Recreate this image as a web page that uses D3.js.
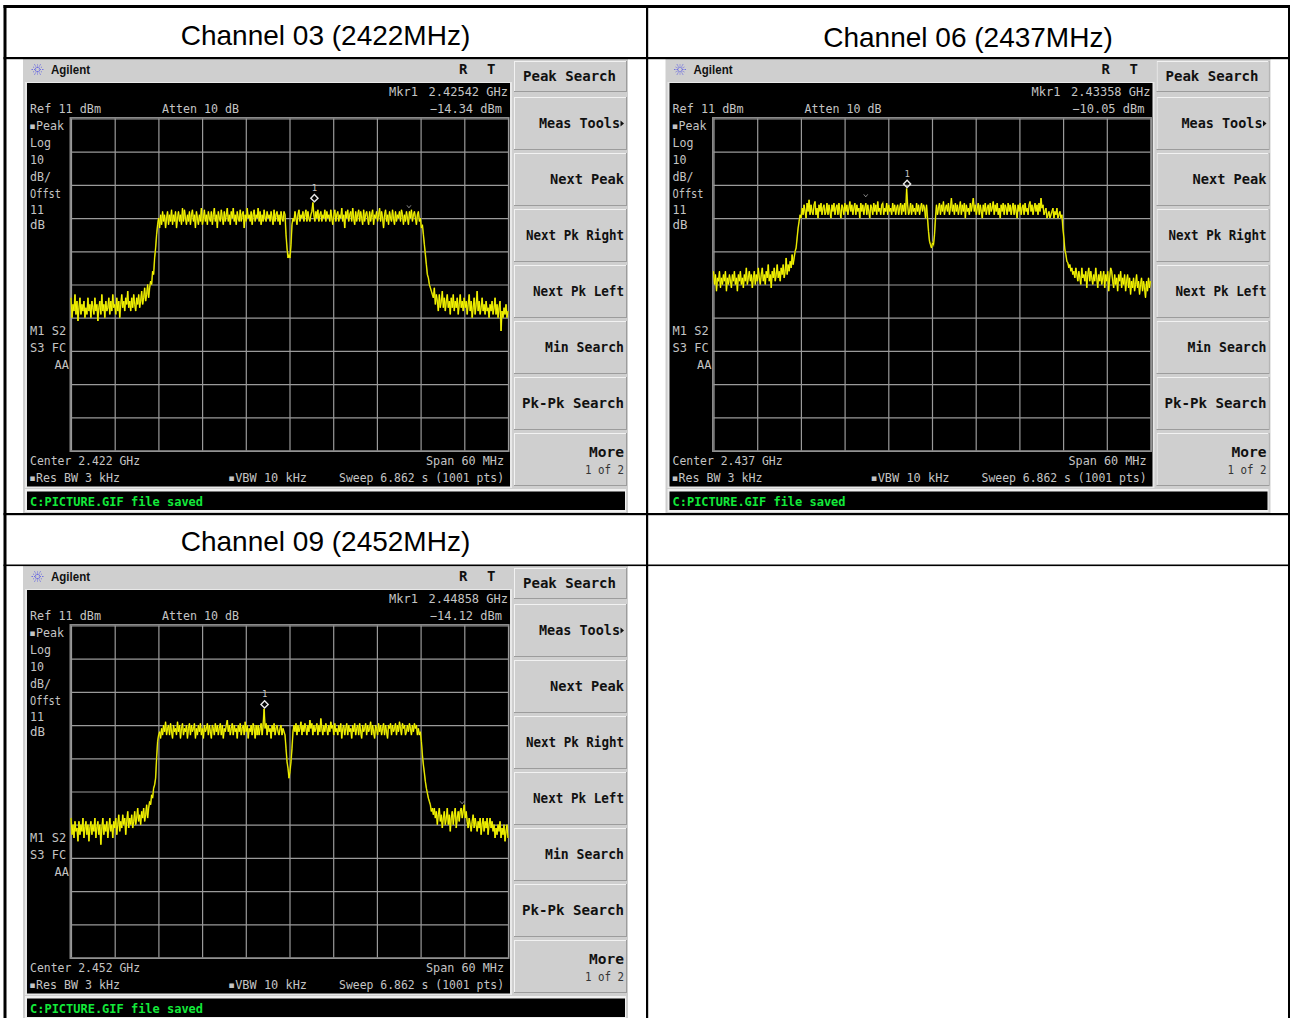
<!DOCTYPE html>
<html><head><meta charset="utf-8">
<script src="https://cdn.jsdelivr.net/npm/d3@7/dist/d3.min.js"></script>
<style>
html,body{margin:0;padding:0;background:#fff;overflow:hidden}
svg{display:block}
.mono{font-family:"DejaVu Sans Mono","Liberation Mono",monospace}
</style></head><body>
<script>
const channelTitles = ["Channel 03 (2422MHz)","Channel 06 (2437MHz)","Channel 09 (2452MHz)"];
const centerLabels = ["Center 2.422 GHz","Center 2.437 GHz","Center 2.452 GHz"];
const markerFreqLabels = ["2.42542 GHz","2.43358 GHz","2.44858 GHz"];
const markerLevelLabels = ["\u221214.34 dBm","\u221210.05 dBm","\u221214.12 dBm"];
const markerOffsetsMHz = [3.42,-3.42,-3.42];
const markerLevelsDbm = [-14.34,-10.05,-14.12];
const sideMarksMHz = [16.4,-9.1,23.7];
const sideMarkLevels = [-16.5,-13.2,-43.3];
const softKeys = ["Peak Search","Meas Tools","Next Peak","Next Pk Right","Next Pk Left","Min Search","Pk-Pk Search","More"];
const statusLabels = ["Log","10","dB/","Offst","11","dB"];
const flagLabels = ["M1 S2","S3 FC","AA"];
const levelTicks = [11,1,-9,-19,-29,-39,-49,-59,-69,-79,-89];
const freqTicks = [-30,-24,-18,-12,-6,0,6,12,18,24,30];

const traceCh03 = [
-43,-49,-45,-47,-42,-48,-44,-50,-46,-43,-48,-45,-47,-44,-49,-46,-48,-43,-47,-45,
-49,-44,-46,-48,-43,-47,-45,-50,-46,-44,-48,-42,-47,-45,-49,-44,-47,-46,-43,-48,
-44,-47,-42,-46,-45,-48,-43,-47,-44,-49,-45,-42,-46,-44,-47,-43,-45,-41,-46,-44,
-47,-43,-46,-42,-45,-47,-43,-45,-42,-46,-44,-41,-45,-43,-40,-44,-42,-39,-43,-40,
-38,-39,-35,-36,-31,-28,-24,-21,-19,-22,-18,-21,-17,-20,-18,-22,-19,-17,-21,-18,
-20,-16.5,-21,-18,-20,-17,-22,-19,-17,-20,-18,-21,-16,-20,-16.5,-19,-21,-18,-20,-17,
-21,-18,-16.5,-20,-18,-22,-17,-19,-21,-18,-20,-16,-21,-19,-16.5,-20,-18,-21,-17,-19,
-20,-17,-21,-18,-16,-20,-18,-22,-17,-19,-20,-16.5,-19,-21,-17,-20,-18,-16,-20,-18,
-21,-17,-19,-16,-20,-18,-21,-17,-19,-20,-16.5,-20,-18,-17,-22,-18,-20,-16,-19,-18,
-20,-17,-21,-18,-16.5,-20,-18,-19,-16,-20,-17,-21,-18,-20,-16.5,-19,-20,-17,-19,-18,
-20,-17,-19,-21,-16.5,-20,-18,-17,-20,-18,-21,-17,-19,-20,-17,-18,-24,-28,-31,-30,
-31,-27,-21,-19,-20,-17,-19,-21,-18,-16.5,-20,-18,-19,-17,-20,-18,-16.5,-20,-17,-19,
-20,-18,-17,-14.3,-18,-20,-17,-19,-16.5,-20,-18,-17,-20,-18,-19,-16.5,-20,-17,-19,-18,
-20,-16.5,-19,-21,-18,-16.5,-20,-18,-17,-20,-18,-19,-16,-20,-18,-22,-17,-19,-16.5,-20,
-18,-17,-20,-16,-19,-21,-17,-20,-18,-16.5,-20,-17,-19,-21,-16.5,-20,-18,-17,-19,-21,
-17,-20,-18,-16.5,-21,-18,-19,-17,-20,-18,-16,-20,-17,-19,-22,-18,-16.5,-20,-18,-21,
-17,-19,-20,-16.5,-19,-21,-17,-20,-18,-19,-17,-20,-16.5,-18,-21,-18,-20,-17,-19,-21,
-17,-19,-16.5,-20,-18,-17,-19,-21,-18,-17,-20,-19,-22,-21,-24,-27,-30,-33,-36,-37,
-39,-40,-41,-42,-43,-40,-45,-42,-44,-47,-42,-46,-44,-41,-46,-43,-47,-44,-42,-46,
-44,-48,-43,-46,-42,-47,-44,-46,-43,-48,-45,-42,-46,-44,-47,-43,-46,-44,-48,-45,
-42,-47,-44,-49,-46,-43,-48,-45,-41,-47,-44,-48,-46,-43,-47,-45,-48,-44,-47,-46,
-49,-45,-47,-44,-48,-46,-43,-48,-45,-49,-46,-44,-53,-47,-49,-46,-48,-45,-49,-47
];
const traceCh06 = [
-35,-39,-36,-41,-37,-38,-35,-40,-37,-39,-36,-38,-35,-41,-37,-39,-36,-38,-40,-36,
-38,-35,-39,-37,-41,-36,-38,-35,-39,-37,-40,-36,-38,-34,-39,-37,-35,-38,-36,-40,
-37,-35,-39,-36,-38,-34,-37,-39,-36,-34,-38,-36,-39,-35,-37,-33,-38,-36,-40,-35,
-37,-34,-38,-36,-33,-37,-35,-38,-34,-36,-33,-37,-35,-31,-36,-33,-35,-32,-34,-30,
-33,-31,-29,-28,-25,-22,-20,-18,-19,-16,-18,-15,-17,-19,-14.5,-17,-13.5,-18,-15,-17,
-18,-15,-14,-18,-16,-19,-15,-17,-14.5,-18,-16,-15,-18,-17,-14.5,-18,-15,-17,-19,-15,
-17,-14.5,-18,-16,-15,-18,-14.5,-17,-19,-15,-16,-18,-14.5,-17,-15,-18,-16,-14,-17,-15,
-18,-16,-14.5,-18,-15,-17,-16,-19,-14.5,-17,-15,-18,-16,-14.5,-18,-15,-17,-19,-15,-16,
-18,-14.5,-17,-15,-18,-14,-17,-16,-18,-15,-14.5,-18,-16,-17,-14.5,-18,-15,-17,-16,-18,
-14.5,-17,-15,-18,-16,-15,-18,-16,-14.5,-18,-15,-17,-14.5,-18,-10.1,-15,-18,-17,-14.5,-18,
-15,-17,-16,-18,-14.5,-17,-15,-18,-16,-14.5,-17,-15,-16,-19,-15,-19,-23,-26,-27,-28,
-26.5,-27,-24,-19,-15,-18,-16,-14.5,-18,-15,-17,-14,-18,-16,-15,-17,-14.5,-18,-16,-13,
-17,-15,-18,-14.5,-17,-15,-18,-16,-14,-18,-15,-17,-14.5,-19,-15,-17,-16,-18,-14.5,-17,
-15,-13,-17,-15,-18,-16,-14.5,-18,-15,-17,-19,-15,-17,-14.5,-18,-16,-15,-18,-14.5,-17,
-16,-14,-18,-15,-17,-14.5,-18,-16,-19,-15,-17,-14.5,-18,-15,-16,-18,-14.5,-17,-15,-18,
-16,-14.5,-18,-15,-17,-19,-15,-17,-14.5,-18,-16,-15,-18,-14.5,-17,-16,-18,-15,-14,-17,
-15,-18,-16,-14.5,-17,-15,-18,-14.5,-17,-13,-16,-15,-18,-17,-16,-19,-18,-17,-19,-18,
-17,-16,-19,-17,-18,-16,-19,-18,-17,-19,-18,-22,-25,-28.6,-30,-32,-32.5,-34,-33,-35,
-34,-36,-35,-37,-34,-36,-38,-35,-37,-39,-34,-37,-36,-38,-35,-40,-36,-34,-38,-35,
-37,-39,-36,-38,-34,-37,-40,-36,-38,-35,-39,-37,-35,-40,-36,-38,-35,-41,-37,-34,
-35,-38,-40,-36,-39,-37,-41,-36,-38,-35,-40,-37,-39,-36,-41,-38,-36,-40,-37,-42,
-38,-40,-37,-41,-39,-36,-40,-38,-42,-39,-37,-41,-38,-40,-43,-38,-41,-37,-40,-38
];
const traceCh09 = [
-47,-52,-49,-53,-48,-51,-50,-54,-48,-52,-49,-51,-47,-53,-50,-48,-52,-49,-54,-50,
-48,-52,-49,-51,-47,-53,-50,-48,-52,-49,-55,-50,-47,-52,-49,-51,-48,-53,-50,-47,
-51,-49,-53,-48,-50,-47,-52,-49,-46,-51,-48,-50,-46,-49,-47,-52,-48,-45,-50,-47,
-49,-46,-50,-48,-45,-49,-47,-44,-48,-46,-49,-45,-47,-44,-48,-46,-43,-47,-44,-42,
-43,-40,-41,-38,-37,-35,-29,-24,-22,-21,-23,-20,-22,-19,-21,-18,-22,-20,-19,-22,
-18.5,-21,-23,-19,-21,-20,-22,-18,-21,-19,-23,-20,-18.5,-22,-20,-21,-19,-23,-20,-18.5,
-22,-19,-21,-20,-18.5,-23,-20,-22,-19,-21,-18.5,-22,-20,-23,-19,-21,-20,-18.5,-22,-19,
-21,-23,-19,-20,-22,-18.5,-21,-19,-22,-20,-18.5,-22,-19,-23,-20,-21,-19,-17.5,-21,-19,
-22,-20,-18.5,-22,-19,-21,-20,-23,-19,-21,-18.5,-22,-20,-19,-22,-18,-21,-19,-23,-20,
-21,-19,-22,-18.5,-20,-23,-19,-22,-19,-22,-20,-18.5,-22,-19,-14.1,-20,-18.5,-22,-19,-21,
-20,-23,-19,-21,-18.5,-22,-20,-19,-21,-22,-20,-19,-22,-20,-21,-22,-26,-30,-32,-35,
-33,-30,-26,-21,-19,-21,-18.5,-22,-19,-21,-20,-18,-22,-19,-21,-18.5,-20,-22,-19,-21,
-17.5,-20,-18.5,-22,-19,-21,-20,-18.5,-22,-19,-21,-17,-20,-22,-19,-21,-18.5,-20,-22,-19,
-21,-18,-20,-19,-22,-18.5,-21,-20,-22,-19,-21,-18.5,-23,-20,-19,-22,-20,-18.5,-22,-19,
-21,-20,-23,-19,-21,-18.5,-22,-20,-19,-22,-18.5,-21,-23,-19,-21,-20,-18.5,-22,-19,-21,
-20,-18,-22,-19,-21,-23,-19,-20,-22,-18.5,-21,-19,-22,-20,-18.5,-22,-19,-21,-23,-19,
-20,-18.5,-22,-19,-21,-20,-18.5,-22,-19,-21,-18,-20,-22,-18.5,-20,-19,-22,-21,-19,-21,
-18.5,-20,-22,-19,-21,-18.5,-20,-19,-22,-20,-22,-21,-24,-28,-31,-33.4,-36,-38,-39.5,-41,
-42,-43,-45,-44,-46,-44,-47,-45,-49,-46,-44,-48,-46,-50,-47,-45,-49,-47,-44,-49,
-46,-51,-47,-45,-49,-46,-44,-50,-47,-45,-48,-45,-44,-47,-45,-43,-47,-45,-48,-50,
-47,-49,-51,-48,-46,-50,-47,-49,-51,-48,-50,-47,-52,-49,-47,-51,-48,-50,-47,-52,
-49,-47,-50,-48,-51,-49,-53,-50,-52,-49,-51,-48,-53,-50,-52,-49,-54,-51,-49,-53
];
const traces = [traceCh03,traceCh06,traceCh09];

const W=1290,H=1018;
const svg=d3.select("body").append("svg").attr("width",W).attr("height",H);

function panel(idx,dx,dy){
  const g=svg.append("g").attr("transform",`translate(${dx},${dy})`);
  const rect=(x,y,w,h,f)=>g.append("rect").attr("x",x).attr("y",y).attr("width",w).attr("height",h).attr("fill",f);
  const txt=(s,x,y,o={})=>{
    const t=g.append("text").text(s).attr("x",x).attr("y",y).attr("class","mono")
     .attr("font-size",o.size||12).attr("fill",o.fill||"#c4c4c4").attr("font-weight",o.weight||"normal")
     .attr("text-anchor",o.anchor||"start");
    if(o.len) t.attr("textLength",o.len).attr("lengthAdjust","spacingAndGlyphs");
    return t;
  };
  // instrument chrome
  rect(23,59,605,455,"#cfcfcf");
  rect(25,82,487,406,"#e8e8e8");
  rect(27,83,483,403.5,"#000");
  rect(25,489,601,23,"#f0f0f0");
  rect(27,491.5,598,18.5,"#000");
  // brand row
  const logo=g.append("g").attr("transform","translate(37.5,69.5)");
  d3.range(0,360,30).forEach(a=>{
    const r=a*Math.PI/180,inner=a%60===0?2:1.5,outer=a%60===0?7:5;
    logo.append("line").attr("x1",inner*Math.cos(r)).attr("y1",inner*Math.sin(r))
      .attr("x2",outer*Math.cos(r)).attr("y2",outer*Math.sin(r))
      .attr("stroke","#6f6fe0").attr("stroke-width",1).attr("stroke-dasharray","1.5 1");
  });
  g.append("text").text("Agilent").attr("x",51).attr("y",73.5).attr("font-family","'Liberation Sans',Arial,sans-serif")
    .attr("font-weight","bold").attr("font-size",13).attr("textLength",39).attr("lengthAdjust","spacingAndGlyphs").attr("fill","#111");
  txt("R",459,73.5,{fill:"#111",weight:"bold",size:14});
  txt("T",487,73.5,{fill:"#111",weight:"bold",size:14});
  // softkeys
  const keyY=[61,97,153,209,265,321,377,433], keyH=[31,53,53,53,53,53,53,53];
  const keyLen=[93,81,74,98,91,79,102,35];
  softKeys.forEach((k,i)=>{
    const y=keyY[i],h=keyH[i],o={fill:"#111",weight:"bold",size:14,len:keyLen[i]};
    rect(514,y,113,h,"#9c9c9c");
    rect(514,y,112,h-1,"#f2f2f2");
    rect(515,y+1,111,h-2,"#cfcfcf");
    if(i===0){ txt(k,523,y+20,o); }
    else if(k==="More"){ txt(k,624,y+24,{...o,anchor:"end"});
      txt("1 of 2",624,y+41,{fill:"#333",size:12,anchor:"end",len:39}); }
    else if(k==="Meas Tools"){ txt(k,620,y+31,{...o,anchor:"end"});
      g.append("path").attr("d",`M620.5,${y+23.5}l3.5,3l-3.5,3z`).attr("fill","#111"); }
    else { txt(k,624,y+31,{...o,anchor:"end"}); }
  });
  // header text
  txt("Ref 11 dBm",30,112.5,{len:71});
  txt("Atten 10 dB",162,112.5,{len:77});
  txt("Mkr1",389,95.5);
  txt(markerFreqLabels[idx],508,95.5,{anchor:"end"});
  txt(markerLevelLabels[idx],502,112.5,{anchor:"end"});
  txt("\u25AAPeak",29,129.5,{len:35});
  const statusY=[146.5,163.5,180.5,197.5,213.5,228.5];
  const statusLen=[21,14,21,31,14,15];
  statusLabels.forEach((s,i)=>txt(s,30,statusY[i],{len:statusLen[i]}));
  txt(flagLabels[0],30,334.5); txt(flagLabels[1],30,351.5); txt(flagLabels[2],69,368.5,{anchor:"end"});
  txt(centerLabels[idx],30,464.5,{len:110});
  txt("\u25AARes BW 3 kHz",29,481.5,{len:91});
  txt("\u25AAVBW 10 kHz",228,481.5,{len:79});
  txt("Span 60 MHz",504,464.5,{anchor:"end",len:78});
  txt("Sweep 6.862 s (1001 pts)",504,481.5,{anchor:"end",len:165});
  txt("C:PICTURE.GIF file saved",30,505.5,{fill:"#13ea3a",weight:"bold",size:12,len:173});
  // scales and grid
  const x=d3.scaleLinear().domain([-30,30]).range([71,508]);
  const y=d3.scaleLinear().domain([11,-89]).range([118.5,450.5]);
  rect(69.5,117,440,335,"#8a8a8a");
  rect(71,118.5,437,332,"#000");
  const gx=g.append("g").attr("transform","translate(0,450.5)")
    .call(d3.axisBottom(x).tickValues(freqTicks).tickSize(-332).tickFormat(""));
  const gy=g.append("g").attr("transform","translate(71,0)")
    .call(d3.axisLeft(y).tickValues(levelTicks).tickSize(-437).tickFormat(""));
  [gx,gy].forEach(a=>{a.select(".domain").remove();a.selectAll("line").attr("stroke","#9a9a9a").attr("stroke-width",1.2);});
  // trace
  const data=traces[idx];
  const line=d3.line().x((d,i)=>x(-30+60*i/(data.length-1))).y(d=>y(d));
  g.append("path").datum(data).attr("d",line).attr("fill","none").attr("stroke","#8c8c00").attr("stroke-width",1.6);
  g.append("path").datum(data).attr("d",line).attr("fill","none").attr("stroke","#ffff00").attr("stroke-width",0.9);
  // marker
  const mx=x(markerOffsetsMHz[idx]), my=y(markerLevelsDbm[idx])-4.5;
  g.append("path").attr("d",d3.symbol(d3.symbolSquare,26)()).attr("transform",`translate(${mx},${my}) rotate(45)`)
    .attr("fill","none").attr("stroke","#e8e8e8").attr("stroke-width",1.4);
  txt("1",mx,my-7,{anchor:"middle",size:9});
  const sx=x(sideMarksMHz[idx]), sy=y(sideMarkLevels[idx])-3;
  g.append("path").attr("d",`M${sx-2},${sy-1.5}L${sx},${sy+1}L${sx+2},${sy-1.5}`).attr("fill","none").attr("stroke","#aaa").attr("stroke-width",0.8);
}
panel(0,0,0);
panel(1,642.5,0);
panel(2,0,507);

// table rules and headings
const rule=(x,y,w,h)=>svg.append("rect").attr("x",x).attr("y",y).attr("width",w).attr("height",h).attr("fill","#000");
rule(3.5,5,1286.5,3);
rule(3.5,5,3,1013);
rule(646,5,2.2,1013);
rule(1288,5,2,1013);
rule(3.5,57,1286.5,2.2);
rule(3.5,513,1286.5,2.2);
rule(3.5,564.5,1286.5,1.6);
const heading=(s,x,y)=>svg.append("text").text(s).attr("x",x).attr("y",y).attr("text-anchor","middle")
  .attr("font-family","'Liberation Sans',Arial,sans-serif").attr("font-size",28).attr("fill","#000");
heading(channelTitles[0],325.5,45);
heading(channelTitles[1],968,47);
heading(channelTitles[2],325.5,551);
</script>
</body></html>
